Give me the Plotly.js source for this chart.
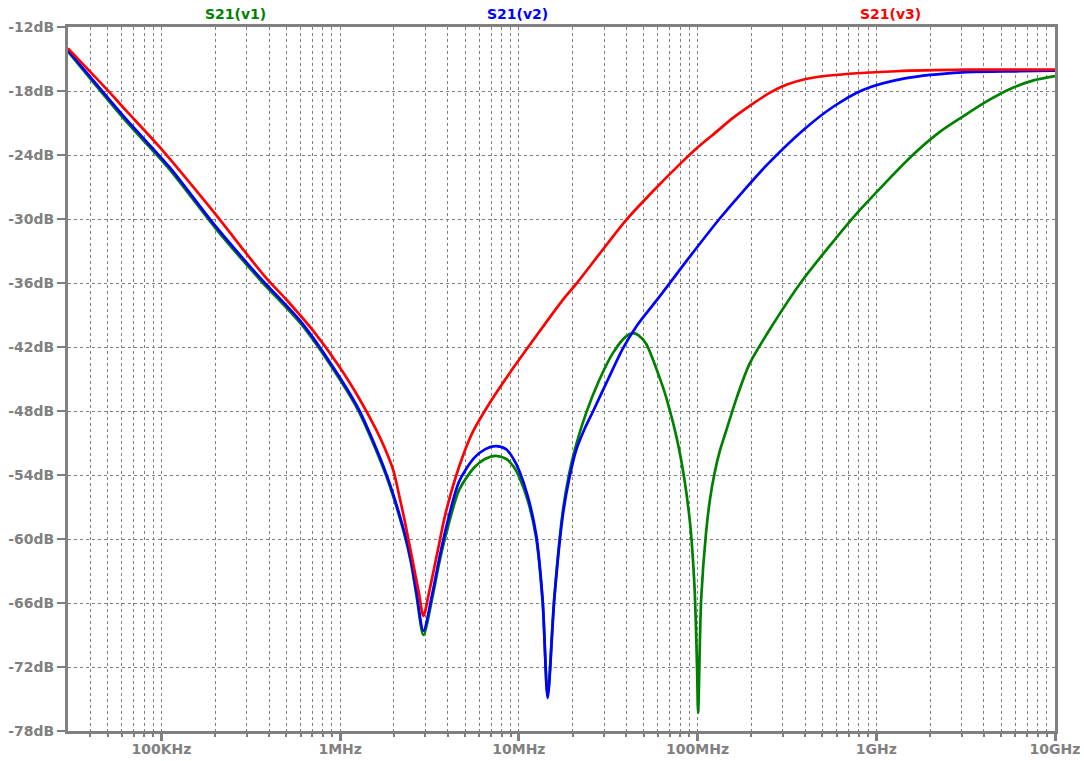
<!DOCTYPE html>
<html>
<head>
<meta charset="utf-8">
<script src="https://cdn.plot.ly/plotly-3.0.1.min.js"></script>
<style>
html,body{margin:0;padding:0;background:#fff;}
#chart{width:1084px;height:761px;}
</style>
</head>
<body>
<div id="chart"></div>
<script>
// ---- data (frequency in Hz, magnitude in dB) ----
const freqV1 = [3.0e4,6.31e4,1.104e5,2.014e5,3.516e5,6.152e5,1.0e6,1.276e6,1.803e6,2.291e6,2.489e6,2.673e6,2.924e6,3.289e6,3.589e6,3.908e6,4.634e6,5.623e6,6.457e6,7.447e6,8.511e6,9.333e6,1.005e7,1.122e7,1.247e7,1.358e7,1.449e7,1.578e7,1.758e7,1.905e7,2.089e7,2.377e7,2.818e7,3.35e7,3.981e7,4.335e7,4.677e7,5.152e7,6.109e7,6.668e7,7.907e7,8.995e7,9.594e7,9.931e7,1.007e8,1.047e8,1.114e8,1.175e8,1.242e8,1.334e8,1.442e8,1.66e8,1.95e8,2.636e8,3.881e8,5.623e8,8.054e8,1.6e9,2.239e9,3.048e9,4.121e9,5.808e9,7.586e9,1e10];
const dbV1   = [-14.3,-20.8,-25.3,-30.9,-35.6,-40.0,-45.1,-48.1,-54.0,-59.6,-62.2,-65.3,-69.0,-65.4,-62.2,-59.6,-55.4,-53.3,-52.5,-52.2,-52.5,-53.2,-54.2,-56.4,-59.8,-65.9,-74.6,-65.5,-57.5,-54.0,-51.2,-48.2,-45.1,-42.6,-41.0,-40.7,-40.9,-41.7,-44.8,-46.7,-51.7,-57.9,-64.2,-72.0,-76.3,-65.7,-59.5,-56.2,-53.9,-51.7,-49.9,-46.7,-43.6,-39.9,-35.7,-32.3,-29.2,-24.0,-21.9,-20.4,-19.0,-17.7,-17.0,-16.6];

const freqV2 = [3.0e4,6.31e4,1.104e5,2.014e5,3.516e5,6.152e5,1.0e6,1.276e6,1.803e6,2.291e6,2.489e6,2.673e6,2.924e6,3.289e6,3.589e6,3.908e6,4.634e6,5.623e6,6.457e6,7.447e6,8.511e6,9.333e6,1.005e7,1.122e7,1.247e7,1.358e7,1.449e7,1.578e7,1.758e7,1.905e7,2.089e7,2.344e7,2.606e7,3.162e7,3.802e7,4.571e7,6.109e7,8.61e7,1.324e8,1.778e8,2.421e8,3.881e8,5.715e8,8.414e8,1.469e9,3.048e9,6.31e9,1e10];
const dbV2   = [-14.2,-20.6,-25.1,-30.7,-35.4,-39.8,-44.9,-47.9,-53.8,-59.4,-62.0,-65.0,-68.6,-65.0,-61.8,-59.0,-54.6,-52.4,-51.6,-51.3,-51.6,-52.5,-53.6,-56.0,-59.5,-65.7,-74.9,-65.7,-57.9,-54.5,-51.7,-49.6,-48.0,-45.0,-42.2,-40.0,-37.3,-34.0,-30.0,-27.5,-25.0,-21.7,-19.5,-17.9,-16.8,-16.25,-16.15,-16.1];

const freqV3 = [3.0e4,4.98e4,6.31e4,9.7e4,1.928e5,3.837e5,4.966e5,7.0e5,9.86e5,1.276e6,1.585e6,1.778e6,1.995e6,2.138e6,2.291e6,2.541e6,2.754e6,2.924e6,3.162e6,3.467e6,3.89e6,4.634e6,5.508e6,7.079e6,8.831e6,1.259e7,1.758e7,2.089e7,2.818e7,3.981e7,5.623e7,7.907e7,1e8,1.259e8,1.585e8,1.995e8,2.512e8,3.162e8,3.981e8,5.47e8,1.291e9,3.162e9,1e10];
const dbV3   = [-14.0,-17.9,-19.8,-23.2,-29.2,-35.5,-37.5,-40.4,-43.8,-46.8,-49.7,-51.5,-53.7,-55.9,-58.2,-62.0,-65.0,-67.2,-64.8,-61.6,-57.6,-53.2,-50.0,-46.9,-44.5,-40.9,-37.6,-36.1,-33.3,-30.1,-27.4,-24.9,-23.3,-21.9,-20.5,-19.3,-18.2,-17.4,-16.9,-16.55,-16.15,-16.0,-16.0];

const seriesNames = ['S21(v1)','S21(v2)','S21(v3)'];
const xTickVals = [1e5,1e6,1e7,1e8,1e9,1e10];
const xTickText = ['100KHz','1MHz','10MHz','100MHz','1GHz','10GHz'];
const xMinorVals = [4e4,5e4,6e4,7e4,8e4,9e4,
  2e5,3e5,4e5,5e5,6e5,7e5,8e5,9e5,
  2e6,3e6,4e6,5e6,6e6,7e6,8e6,9e6,
  2e7,3e7,4e7,5e7,6e7,7e7,8e7,9e7,
  2e8,3e8,4e8,5e8,6e8,7e8,8e8,9e8,
  2e9,3e9,4e9,5e9,6e9,7e9,8e9,9e9];
const yTickVals = [-78,-72,-66,-60,-54,-48,-42,-36,-30,-24,-18,-12];
const yTickText = yTickVals.map(v => v + 'dB');

// all x grid positions: decades carry the labels, the rest are unlabeled
const xGridVals = xTickVals.concat(xMinorVals).sort((a, b) => a - b);
const xGridText = xGridVals.map(v => {
  const k = xTickVals.indexOf(v);
  return k >= 0 ? xTickText[k] : '';
});

// ---- styling ----
const colors = ['#008000','#0000ff','#ff0000'];
const gray = '#808080';
const fontFam = 'DejaVu Sans, Liberation Sans, Arial, sans-serif';
const xRange = [Math.log10(3e4), 10];

const traces = [
  {x: freqV1, y: dbV1, name: seriesNames[0]},
  {x: freqV2, y: dbV2, name: seriesNames[1]},
  {x: freqV3, y: dbV3, name: seriesNames[2]}
].map((t, i) => Object.assign(t, {
  type: 'scatter', mode: 'lines',
  line: {color: colors[i], width: 2.7, shape: 'spline', smoothing: 0.8},
  hoverinfo: 'x+y+name'
}));
// empty helper trace so the overlay axis carrying the long decade ticks is drawn
traces.unshift({type: 'scatter', mode: 'lines', x: [], y: [], xaxis: 'x2', yaxis: 'y', hoverinfo: 'skip', showlegend: false});

const labelX = [0.170, 0.455, 0.833];
const annotations = seriesNames.map((n, i) => ({
  text: n, xref: 'paper', yref: 'paper', x: labelX[i], y: 1 + 13/704,
  xanchor: 'center', yanchor: 'middle', showarrow: false,
  font: {family: fontFam, size: 14, color: colors[i], weight: 'bold'}
}));

const layout = {
  width: 1084, height: 761,
  margin: {l: 68, r: 29, t: 27, b: 30, pad: 0},
  paper_bgcolor: '#ffffff', plot_bgcolor: '#ffffff',
  showlegend: false,
  font: {family: fontFam, size: 14, color: gray},
  xaxis: {
    type: 'log', range: xRange,
    tickmode: 'array', tickvals: xGridVals, ticktext: xGridText,
    ticks: 'outside', ticklen: 3, tickwidth: 2, tickcolor: gray,
    tickfont: {family: fontFam, size: 14, color: gray, weight: 'bold'},
    showgrid: true, gridcolor: gray, gridwidth: 1, griddash: '3px,3px',
    showline: true, linecolor: gray, linewidth: 3, mirror: true,
    zeroline: false, fixedrange: true
  },
  xaxis2: {
    type: 'log', range: xRange, overlaying: 'x', anchor: 'y', side: 'bottom',
    tickmode: 'array', tickvals: xTickVals,
    ticks: 'outside', ticklen: 9, tickwidth: 3, tickcolor: gray,
    showticklabels: false, showgrid: false, showline: false,
    zeroline: false, fixedrange: true
  },
  yaxis: {
    range: [-78, -12],
    tickmode: 'array', tickvals: yTickVals, ticktext: yTickText,
    ticks: 'outside', ticklen: 8, tickwidth: 2, tickcolor: gray,
    tickfont: {family: fontFam, size: 14, color: gray, weight: 'bold'},
    showgrid: true, gridcolor: gray, gridwidth: 1, griddash: '3px,3px',
    showline: true, linecolor: gray, linewidth: 3, mirror: true,
    zeroline: false, fixedrange: true
  },
  annotations: annotations
};

Plotly.newPlot('chart', traces, layout, {displayModeBar: false, staticPlot: true});
</script>
</body>
</html>
